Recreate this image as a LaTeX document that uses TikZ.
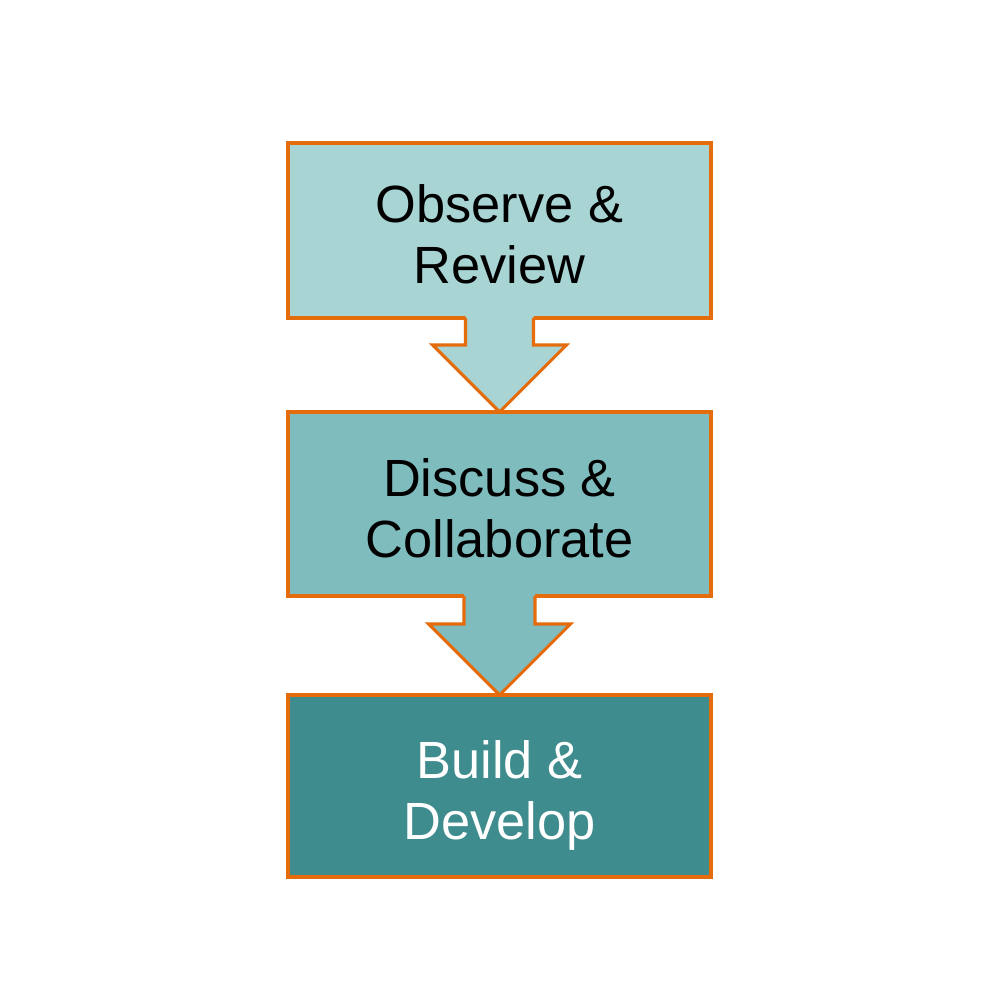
\documentclass[tikz,border=0pt]{standalone}
\usepackage{fontspec}
\setmainfont{Liberation Sans}
\usetikzlibrary{positioning}

\definecolor{stageorange}{HTML}{E46C0A}
\definecolor{tealpale}{HTML}{A8D4D4}
\definecolor{tealmid}{HTML}{7FBCBE}
\definecolor{tealdeep}{HTML}{3F8C8E}

\tikzset{
  stage/.style={draw=stageorange, line width=0.9pt, rectangle, outer sep=0pt,
    inner sep=0pt, minimum width=4.23cm, align=center, text height=30.3pt, text depth=0pt,
    font=\fontsize{14.9pt}{17.4pt}\selectfont},
  edge/.style={draw=stageorange, line width=0.9pt, line join=miter}
}

\begin{document}
\begin{tikzpicture}
  \useasboundingbox (0,0) rectangle (10,10);
  \fill[white] (0,0) rectangle (10,10);

  \node[stage, fill=tealpale, minimum height=1.75cm] at (4.995,7.695) (obs) {Observe \&\\Review};
  \node[stage, fill=tealmid, minimum height=1.84cm, below = 0.94cm of obs] (disc) {Discuss \&\\Collaborate};
  \node[stage, fill=tealdeep, text=white, minimum height=1.82cm, below = 0.99cm of disc] (build) {Build \&\\Develop};

  % arrow from obs to disc
  \fill[tealpale] ([xshift=-3.4mm,yshift=0.8pt]obs.south) -- ([xshift=-3.4mm,yshift=-2.7mm]obs.south)
    -- ([xshift=-6.7mm,yshift=-2.7mm]obs.south) -- (disc.north)
    -- ([xshift=6.7mm,yshift=-2.7mm]obs.south) -- ([xshift=3.4mm,yshift=-2.7mm]obs.south)
    -- ([xshift=3.4mm,yshift=0.8pt]obs.south) -- cycle;
  \draw[edge] ([xshift=-3.4mm]obs.south) -- ([xshift=-3.4mm,yshift=-2.7mm]obs.south)
    -- ([xshift=-6.7mm,yshift=-2.7mm]obs.south) -- (disc.north)
    -- ([xshift=6.7mm,yshift=-2.7mm]obs.south) -- ([xshift=3.4mm,yshift=-2.7mm]obs.south)
    -- ([xshift=3.4mm]obs.south);

  % arrow from disc to build
  \fill[tealmid] ([xshift=-3.55mm,yshift=0.8pt]disc.south) -- ([xshift=-3.55mm,yshift=-2.8mm]disc.south)
    -- ([xshift=-7.1mm,yshift=-2.8mm]disc.south) -- (build.north)
    -- ([xshift=7.1mm,yshift=-2.8mm]disc.south) -- ([xshift=3.55mm,yshift=-2.8mm]disc.south)
    -- ([xshift=3.55mm,yshift=0.8pt]disc.south) -- cycle;
  \draw[edge] ([xshift=-3.55mm]disc.south) -- ([xshift=-3.55mm,yshift=-2.8mm]disc.south)
    -- ([xshift=-7.1mm,yshift=-2.8mm]disc.south) -- (build.north)
    -- ([xshift=7.1mm,yshift=-2.8mm]disc.south) -- ([xshift=3.55mm,yshift=-2.8mm]disc.south)
    -- ([xshift=3.55mm]disc.south);
\end{tikzpicture}
\end{document}
